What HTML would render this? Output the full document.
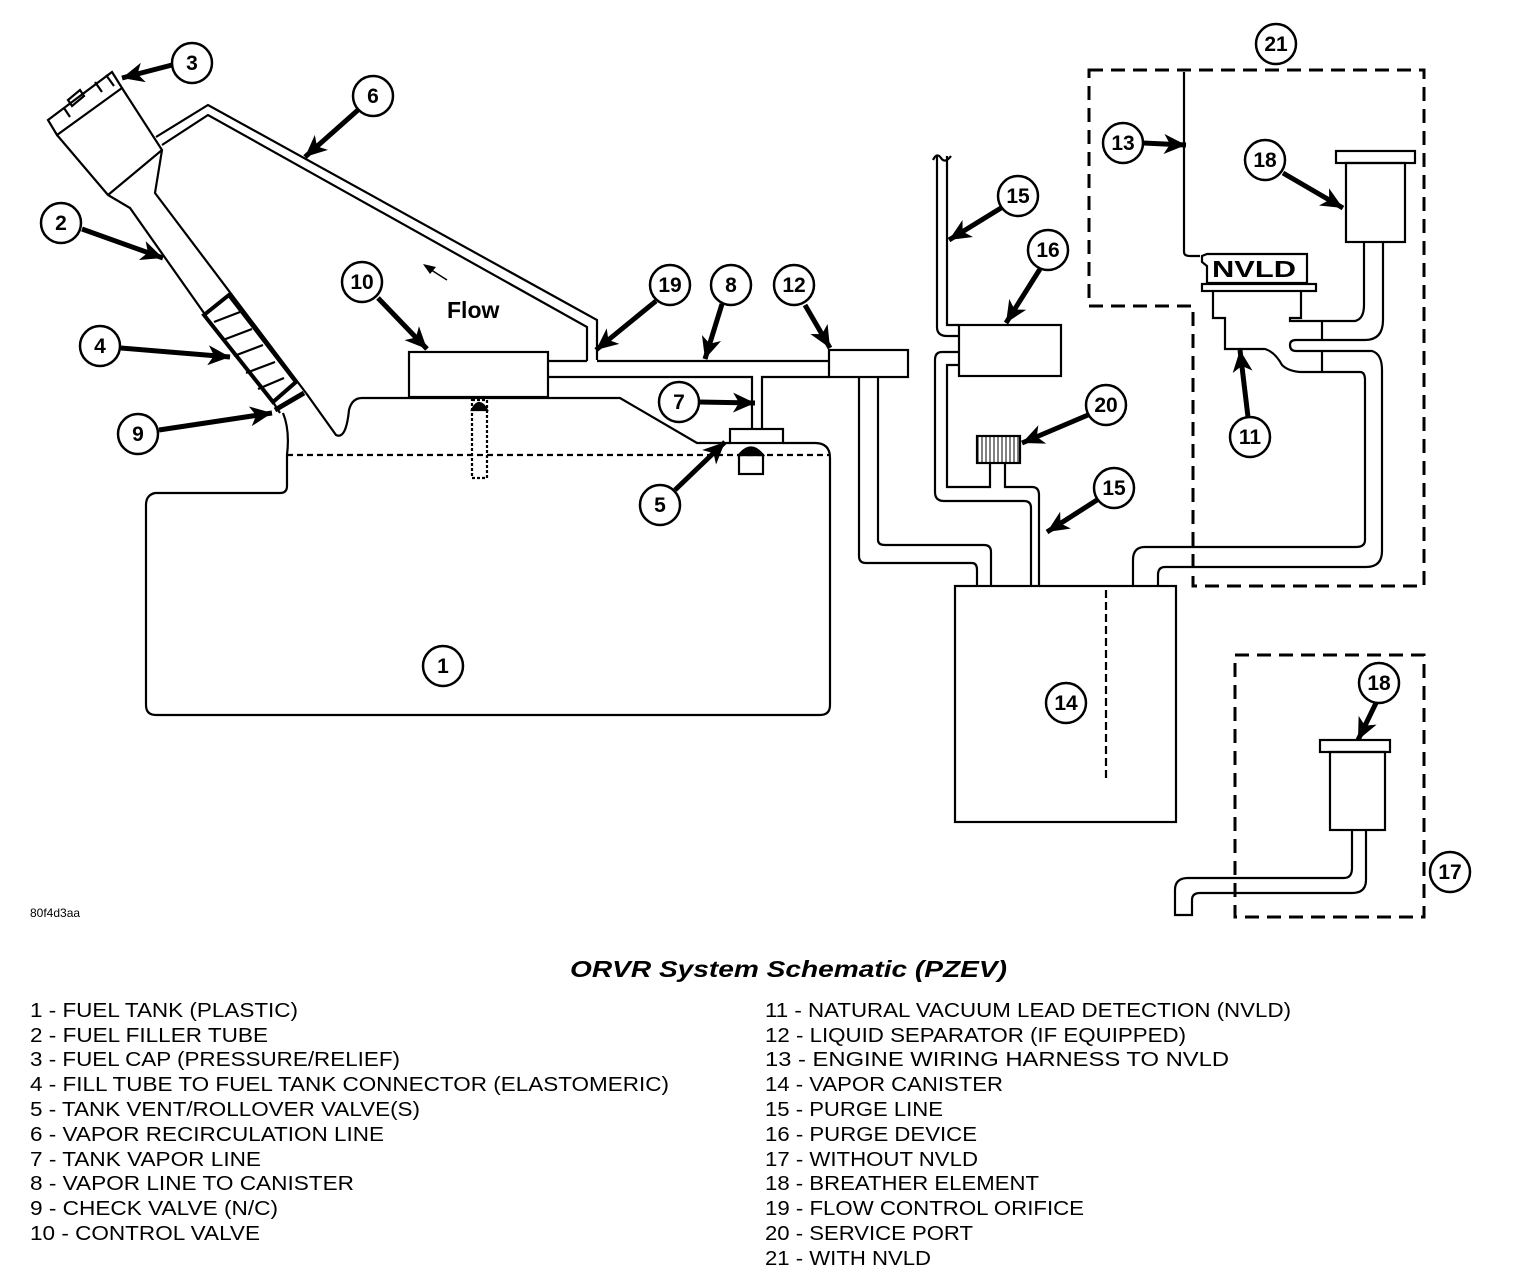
<!DOCTYPE html>
<html><head><meta charset="utf-8"><style>
html,body{margin:0;padding:0;background:#fff;}
svg{display:block;}
text{font-family:"Liberation Sans",sans-serif;fill:#000;}
.c{font-weight:bold;font-size:21px;text-anchor:middle;}
.l{font-size:20px;}
</style></head><body>
<svg width="1520" height="1274" viewBox="0 0 1520 1274" xmlns="http://www.w3.org/2000/svg">
<defs>
<marker id="ah" markerUnits="userSpaceOnUse" markerWidth="24" markerHeight="20" refX="22" refY="10" orient="auto">
<path d="M0,0 L22,10 L0,20 L6,10 Z" fill="#000"/>
</marker>
<pattern id="vh" width="4" height="4" patternUnits="userSpaceOnUse"><line x1="2" y1="0" x2="2" y2="4" stroke="#000" stroke-width="1"/></pattern>
</defs>
<g fill="none" stroke="#000" stroke-width="2.2">
<path d="M283,413 Q290,430 287,455 L287,486 Q287,493 280,493 L155,493 Q146,495 146,505 L146,705 Q146,715 156,715 L820,715 Q830,715 830,705 L830,458 Q830,443 815,443 L783,443"/>
<path d="M306,393 L336,435 Q346,440 349,410 Q352,398 362,398 L620,398 L697,443 L730,443"/>
<line x1="287" y1="455" x2="830" y2="455" stroke-dasharray="6,4"/>
<path d="M57,135 L108,195 L130,208 L204,313"/>
<path d="M122,88 L162,150 L155,193 L306,393"/>
<path d="M108,195 L162,150"/>
<polygon points="48,120 112,72 122,88 57,135"/>
<polygon points="68,100 80,90 84,96 72,106"/>
<line x1="95" y1="82" x2="102" y2="92"/>
<line x1="106" y1="75" x2="114" y2="86"/>
<line x1="64" y1="108" x2="70" y2="117"/>
<polygon points="204,315 229,295 296,382 273,402" stroke-width="4"/>
<line x1="214" y1="322" x2="240" y2="312"/><line x1="223" y1="340" x2="252" y2="329"/><line x1="234" y1="356" x2="263" y2="345"/><line x1="246" y1="373" x2="275" y2="362"/><line x1="258" y1="389" x2="284" y2="378"/>
<line x1="275" y1="410" x2="304" y2="393" stroke-width="5"/>
<path d="M273,402 L280,413"/>
<path d="M156,137 L208,105 L597,320 L597,360"/>
<path d="M162,145 L208,115 L587,327 L587,361"/>
<rect x="409" y="352" width="139" height="45"/>
<rect x="472" y="400" width="15" height="78" stroke-dasharray="3,2"/>
<path d="M472,410 Q479,396 487,410 Z" fill="#000"/>
<path d="M548,361 L587,361 M597,361 L829,361"/>
<path d="M548,377 L752,377 L752,429 M762,429 L762,377 L829,377"/>
<rect x="829" y="350" width="79" height="27"/>
<rect x="730" y="429" width="53" height="14"/>
<rect x="739" y="455" width="24" height="19"/>
<path d="M739,455 Q751,440 763,455 Z" fill="#000"/>
<path d="M859,377 L859,556 Q859,563 866,563 L972,563 Q977,563 977,570 L977,586"/>
<path d="M878,377 L878,540 Q878,545 885,545 L984,545 Q991,545 991,552 L991,586"/>
<rect x="955" y="586" width="221" height="236"/>
<line x1="1106" y1="590" x2="1106" y2="780" stroke-dasharray="8,4"/>
<path d="M937,156 L937,327 Q937,336 947,336 L959,336"/>
<path d="M947,156 L947,325 L959,325"/>
<path d="M933,160 Q937,152 941,158 Q945,164 951,156"/>
<rect x="959" y="325" width="102" height="51"/>
<path d="M959,352 L942,352 Q935,352 935,360 L935,492 Q935,501 944,501 L1024,501 Q1031,501 1031,508 L1031,585"/>
<path d="M959,365 L947,365 L947,487 L990,487 L990,463"/>
<path d="M1005,463 L1005,487 L1032,487 Q1039,487 1039,495 L1039,586"/>
<rect x="977" y="436" width="43" height="27" fill="url(#vh)"/>
<path d="M1089,70 L1424,70 L1424,586 L1193,586 L1193,306 L1089,306 Z" stroke-dasharray="14,8" stroke-width="3"/>
<path d="M1184,72 L1184,252 Q1184,256 1190,256 L1200,256"/>
<path d="M1207,254 L1307,254 L1307,283 L1207,283 L1207,266 L1202,262 L1202,256 Z"/>
<rect x="1202" y="284" width="114" height="7"/>
<path d="M1213,291 L1213,318 L1225,318 L1225,349 L1265,349 Q1275,352 1282,365 Q1288,371 1300,372 L1360,372 Q1365,372 1365,380 L1365,540 Q1365,547 1356,547 L1145,547 Q1133,547 1133,560 L1133,586"/>
<path d="M1301,291 L1301,318 L1290,318 L1290,321 L1355,321 Q1364,319 1364,305 L1364,242"/>
<path d="M1383,242 L1383,320 Q1383,340 1365,340 L1296,340 Q1290,340 1290,345 Q1290,351 1296,351 L1372,351 Q1382,354 1382,370 L1382,551 Q1382,567 1366,567 L1165,567 Q1158,567 1158,575 L1158,586"/>
<line x1="1322" y1="321" x2="1322" y2="340"/><line x1="1322" y1="351" x2="1322" y2="372"/>
<rect x="1336" y="151" width="79" height="12"/>
<rect x="1346" y="163" width="59" height="79"/>
<path d="M1235,655 L1424,655 L1424,917 L1235,917 Z" stroke-dasharray="14,8" stroke-width="3"/>
<rect x="1320" y="740" width="70" height="12"/>
<rect x="1330" y="752" width="55" height="78"/>
<path d="M1366,830 L1366,880 Q1366,893 1352,893 L1200,893 Q1192,893 1192,900 L1192,915 L1175,915 L1175,890 Q1175,878 1188,878 L1344,878 Q1352,878 1352,868 L1352,830"/>
<path d="M447,280 L425,266" stroke-width="1.5"/>
</g>
<polygon points="423,264 436,267 430,274" fill="#000"/>
<text x="447" y="318" font-weight="bold" font-size="23">Flow</text>
<text x="1212" y="277" font-weight="bold" font-size="23" textLength="84" lengthAdjust="spacingAndGlyphs">NVLD</text>
<g stroke="#000" stroke-width="5" marker-end="url(#ah)" fill="none">
<line x1="172" y1="65" x2="122" y2="78"/>
<line x1="358" y1="110" x2="305" y2="157"/>
<line x1="82" y1="229" x2="163" y2="258"/>
<line x1="378" y1="298" x2="427" y2="349"/>
<line x1="121" y1="348" x2="230" y2="357"/>
<line x1="159" y1="430" x2="272" y2="413"/>
<line x1="656" y1="301" x2="596" y2="350"/>
<line x1="722" y1="304" x2="705" y2="359"/>
<line x1="805" y1="305" x2="830" y2="348"/>
<line x1="699" y1="402" x2="755" y2="403"/>
<line x1="675" y1="490" x2="725" y2="442"/>
<line x1="1143" y1="143" x2="1186" y2="145"/>
<line x1="1283" y1="173" x2="1343" y2="208"/>
<line x1="1001" y1="208" x2="949" y2="240"/>
<line x1="1040" y1="269" x2="1006" y2="323"/>
<line x1="1088" y1="415" x2="1022" y2="443"/>
<line x1="1248" y1="417" x2="1240" y2="350"/>
<line x1="1097" y1="500" x2="1047" y2="532"/>
<line x1="1376" y1="703" x2="1358" y2="740"/>
</g>
<g fill="#fff" stroke="#000" stroke-width="2.5">
<circle cx="192" cy="63" r="20"/><circle cx="373" cy="96" r="20"/><circle cx="61" cy="223" r="20"/><circle cx="362" cy="282" r="20"/><circle cx="100" cy="346" r="20"/><circle cx="138" cy="434" r="20"/><circle cx="670" cy="285" r="20"/><circle cx="731" cy="285" r="20"/><circle cx="794" cy="285" r="20"/><circle cx="679" cy="402" r="20"/><circle cx="660" cy="505" r="20"/><circle cx="443" cy="666" r="20"/><circle cx="1276" cy="44" r="20"/><circle cx="1123" cy="143" r="20"/><circle cx="1265" cy="160" r="20"/><circle cx="1018" cy="196" r="20"/><circle cx="1048" cy="250" r="20"/><circle cx="1106" cy="405" r="20"/><circle cx="1250" cy="437" r="20"/><circle cx="1114" cy="488" r="20"/><circle cx="1066" cy="703" r="20"/><circle cx="1379" cy="683" r="20"/><circle cx="1450" cy="872" r="20"/>
</g>
<g>
<text class="c" x="192" y="70">3</text><text class="c" x="373" y="103">6</text><text class="c" x="61" y="230">2</text><text class="c" x="362" y="289">10</text><text class="c" x="100" y="353">4</text><text class="c" x="138" y="441">9</text><text class="c" x="670" y="292">19</text><text class="c" x="731" y="292">8</text><text class="c" x="794" y="292">12</text><text class="c" x="679" y="409">7</text><text class="c" x="660" y="512">5</text><text class="c" x="443" y="673">1</text><text class="c" x="1276" y="51">21</text><text class="c" x="1123" y="150">13</text><text class="c" x="1265" y="167">18</text><text class="c" x="1018" y="203">15</text><text class="c" x="1048" y="257">16</text><text class="c" x="1106" y="412">20</text><text class="c" x="1250" y="444">11</text><text class="c" x="1114" y="495">15</text><text class="c" x="1066" y="710">14</text><text class="c" x="1379" y="690">18</text><text class="c" x="1450" y="879">17</text>
</g>
<text x="30" y="917" font-size="12">80f4d3aa</text>
<text x="570" y="977" font-size="23" font-weight="bold" font-style="italic" textLength="437" lengthAdjust="spacingAndGlyphs">ORVR System Schematic (PZEV)</text>
<g class="l" font-size="20">
<text x="30" y="1017" textLength="268" lengthAdjust="spacingAndGlyphs">1 - FUEL TANK (PLASTIC)</text>
<text x="30" y="1042" textLength="238" lengthAdjust="spacingAndGlyphs">2 - FUEL FILLER TUBE</text>
<text x="30" y="1066" textLength="370" lengthAdjust="spacingAndGlyphs">3 - FUEL CAP (PRESSURE/RELIEF)</text>
<text x="30" y="1091" textLength="639" lengthAdjust="spacingAndGlyphs">4 - FILL TUBE TO FUEL TANK CONNECTOR (ELASTOMERIC)</text>
<text x="30" y="1116" textLength="390" lengthAdjust="spacingAndGlyphs">5 - TANK VENT/ROLLOVER VALVE(S)</text>
<text x="30" y="1141" textLength="354" lengthAdjust="spacingAndGlyphs">6 - VAPOR RECIRCULATION LINE</text>
<text x="30" y="1166" textLength="231" lengthAdjust="spacingAndGlyphs">7 - TANK VAPOR LINE</text>
<text x="30" y="1190" textLength="324" lengthAdjust="spacingAndGlyphs">8 - VAPOR LINE TO CANISTER</text>
<text x="30" y="1215" textLength="248" lengthAdjust="spacingAndGlyphs">9 - CHECK VALVE (N/C)</text>
<text x="30" y="1240" textLength="230" lengthAdjust="spacingAndGlyphs">10 - CONTROL VALVE</text>
<text x="765" y="1017" textLength="526" lengthAdjust="spacingAndGlyphs">11 - NATURAL VACUUM LEAD DETECTION (NVLD)</text>
<text x="765" y="1042" textLength="421" lengthAdjust="spacingAndGlyphs">12 - LIQUID SEPARATOR (IF EQUIPPED)</text>
<text x="765" y="1066" textLength="464" lengthAdjust="spacingAndGlyphs">13 - ENGINE WIRING HARNESS TO NVLD</text>
<text x="765" y="1091" textLength="238" lengthAdjust="spacingAndGlyphs">14 - VAPOR CANISTER</text>
<text x="765" y="1116" textLength="178" lengthAdjust="spacingAndGlyphs">15 - PURGE LINE</text>
<text x="765" y="1141" textLength="212" lengthAdjust="spacingAndGlyphs">16 - PURGE DEVICE</text>
<text x="765" y="1166" textLength="213" lengthAdjust="spacingAndGlyphs">17 - WITHOUT NVLD</text>
<text x="765" y="1190" textLength="274" lengthAdjust="spacingAndGlyphs">18 - BREATHER ELEMENT</text>
<text x="765" y="1215" textLength="319" lengthAdjust="spacingAndGlyphs">19 - FLOW CONTROL ORIFICE</text>
<text x="765" y="1240" textLength="208" lengthAdjust="spacingAndGlyphs">20 - SERVICE PORT</text>
<text x="765" y="1265" textLength="166" lengthAdjust="spacingAndGlyphs">21 - WITH NVLD</text>
</g>
</svg>
</body></html>
